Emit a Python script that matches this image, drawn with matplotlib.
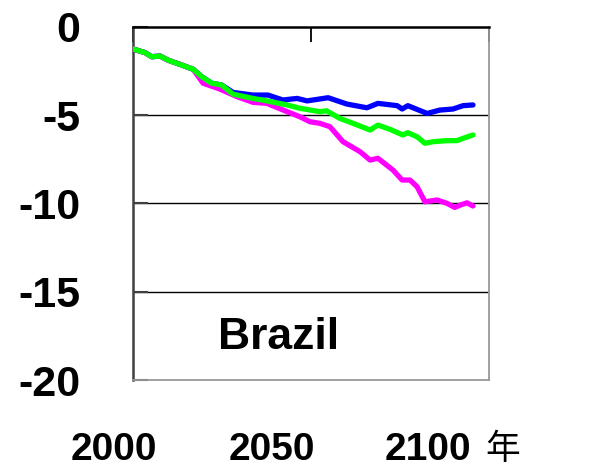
import matplotlib.pyplot as plt

# blue scenario
blue_year = [2000, 2003.4, 2005.3, 2007.6, 2009.8, 2013.7, 2016.9, 2019.3, 2022.1, 2024.9,
             2028.1, 2033.7, 2037.9, 2042.1, 2046.1, 2048.9, 2054.8, 2060.1, 2065.7, 2068.8,
             2074.2, 2075.6, 2077.2, 2082.6, 2086.2, 2089.9, 2092.7, 2095.5]
blue_val = [-1.26, -1.47, -1.70, -1.66, -1.89, -2.17, -2.41, -2.83, -3.20, -3.30,
            -3.72, -3.87, -3.87, -4.15, -4.06, -4.20, -4.02, -4.38, -4.59, -4.34,
            -4.47, -4.66, -4.47, -4.91, -4.72, -4.66, -4.47, -4.43]

# green scenario
green_year = [2000, 2003.4, 2005.3, 2007.6, 2009.8, 2013.7, 2016.9, 2019.3, 2022.1, 2024.9,
              2028.1, 2033.7, 2037.6, 2043.3, 2046.9, 2052.5, 2054.4, 2058.1, 2061.8, 2066.6,
              2068.8, 2072.2, 2075.8, 2077.2, 2079.8, 2082.0, 2084.3, 2088.2, 2091.0, 2092.7,
              2095.5]
green_val = [-1.26, -1.47, -1.70, -1.66, -1.89, -2.17, -2.41, -2.83, -3.20, -3.30,
             -3.82, -4.06, -4.20, -4.43, -4.62, -4.81, -4.76, -5.19, -5.47, -5.85,
             -5.57, -5.81, -6.13, -6.00, -6.23, -6.60, -6.51, -6.45, -6.45, -6.32,
             -6.13]

# magenta scenario
pink_year = [2000, 2003.4, 2005.3, 2007.6, 2009.8, 2013.7, 2016.9, 2019.7, 2024.4, 2029.2,
             2033.7, 2037.6, 2043.3, 2046.9, 2049.7, 2052.5, 2055.3, 2059.0, 2063.8, 2066.6,
             2068.8, 2073.0, 2075.6, 2077.8, 2079.8, 2082.0, 2085.4, 2088.2, 2090.4, 2091.9,
             2093.8, 2095.5]
pink_val = [-1.26, -1.47, -1.70, -1.66, -1.89, -2.17, -2.41, -3.20, -3.53, -3.96,
            -4.28, -4.34, -4.81, -5.10, -5.38, -5.47, -5.66, -6.51, -7.08, -7.55,
            -7.45, -8.11, -8.68, -8.68, -9.06, -9.91, -9.81, -10.00, -10.23, -10.10,
            -9.97, -10.15]

x_ticks = [2000, 2050, 2100]
y_ticks = [0, -5, -10, -15, -20]
x_label_pos = [114, 272, 428]  # pixel centres of the year labels

W, H = 597, 472
fig = plt.figure(figsize=(W / 100, H / 100), dpi=100)
ax = fig.add_axes([133 / W, 1 - 380 / H, 356 / W, 353.3 / H])

ax.plot(pink_year, pink_val, color='#ff00ff', lw=3.8, solid_capstyle='round', zorder=3)
ax.plot(green_year, green_val, color='#00ff00', lw=3.8, solid_capstyle='round', zorder=4)
ax.plot(blue_year, blue_val, color='#0000ff', lw=3.8, solid_capstyle='round', zorder=2)

ax.set_xlim(2000, 2100)
ax.set_ylim(-20, 0)

for v in y_ticks[1:-1]:
    ax.axhline(v, color='black', lw=1.0, zorder=1)

ax.spines['left'].set_color('#404040')
ax.spines['left'].set_linewidth(1.8)
ax.spines['top'].set_color('black')
ax.spines['top'].set_linewidth(1.8)
ax.spines['right'].set_color('#999999')
ax.spines['right'].set_linewidth(1.3)
ax.spines['bottom'].set_color('#999999')
ax.spines['bottom'].set_linewidth(1.3)

ax.set_yticks(y_ticks)
ax.set_yticklabels([str(v) for v in y_ticks], fontsize=31, fontweight='bold',
                   family='Liberation Sans')
ax.tick_params(axis='y', direction='in', length=11, width=1.5, color='#404040', pad=38)

ax.set_xticks(x_ticks)
ax.tick_params(axis='x', direction='in', length=11, width=1.3, color='black',
               bottom=False, top=True, labelbottom=False)

for pos, yr in zip(x_label_pos, x_ticks):
    fig.text(pos / W, 1 - 450 / H, str(yr), ha='center', va='center',
             fontsize=28, fontweight='bold', family='Liberation Sans')
fig.text(503 / W, 1 - 449 / H, '年', ha='center', va='center',
         fontsize=25, family=['Noto Sans CJK SC', 'DejaVu Sans'])

ax.text(2041, -17.6, 'Brazil', ha='center', va='center',
        fontsize=32, fontweight='bold', family='Liberation Sans')

fig.savefig('out.png', dpi=100)
